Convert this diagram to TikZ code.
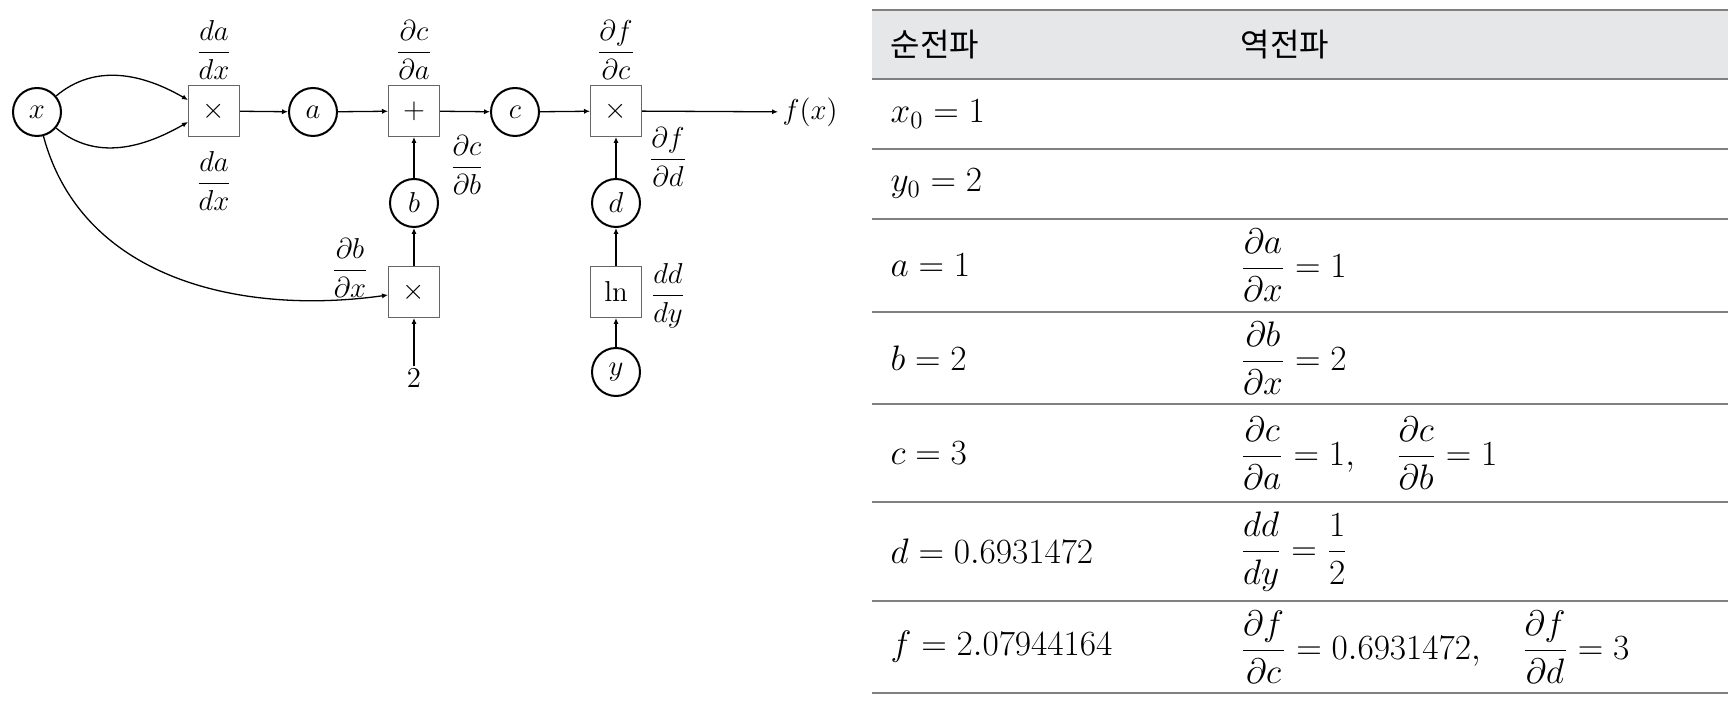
\RequirePackage{fix-cm}
\documentclass[tikz,border=0pt]{standalone}
\usepackage{amsmath}
\usepackage{fontspec}
\newfontfamily\kofont{Noto Sans CJK KR}
\usetikzlibrary{arrows.meta}
\definecolor{boxgray}{gray}{0.4}
\definecolor{rulegray}{gray}{0.5}
\definecolor{headgray}{RGB}{230,231,233}
\newcommand{\dgmfont}{\fontsize{14.4}{17}\selectfont}
\newcommand{\tabfont}{\fontsize{17.7}{21}\selectfont}
\begin{document}
\begin{tikzpicture}[x=0.5pt,y=0.5pt,line width=0.65pt,>={Latex[length=3pt,width=2.6pt]},
    var/.style={circle,draw,line width=1pt,minimum size=24pt,inner sep=0pt,font=\dgmfont},
    op/.style={rectangle,draw=boxgray,line width=0.5pt,minimum size=25.5pt,inner sep=0pt,font=\dgmfont},
    lbl/.style={inner sep=1pt,font=\dgmfont},
    cell/.style={anchor=west,inner sep=0pt,font=\tabfont}]
    \useasboundingbox (0,0) rectangle (1728,702);
    % graph
    \node[var] (x) at (37,590) {$x$};
    \node[op] (m1) at (214,591) {$\times$};
    \node[var] (a) at (313,590) {$a$};
    \node[op] (p) at (414,591) {$+$};
    \node[var] (c) at (515,590) {$c$};
    \node[op] (m2) at (616,591) {$\times$};
    \node[lbl,anchor=west,inner sep=2pt] (fx) at (778,590) {$f(x)$};
    \node[var] (b) at (414,499) {$b$};
    \node[op] (m3) at (414,410) {$\times$};
    \node[lbl] (two) at (414,324) {$2$};
    \node[var] (d) at (616,499) {$d$};
    \node[op] (ln) at (616,410) {$\ln$};
    \node[var] (y) at (616,330) {$y$};
    \draw[->] (x) to[out=40,in=150] ([yshift=5.5pt]m1.west);
    \draw[->] (x) to[out=-40,in=-150] ([yshift=-5.5pt]m1.west);
    \draw[->] (x) to[out=-75,in=188] ([yshift=-1.5pt]m3.west);
    \draw[->] (m1)--(a);
    \draw[->] (a)--(p);
    \draw[->] (p)--(c);
    \draw[->] (c)--(m2);
    \draw[->] (m2)--(fx);
    \draw[->] (two)--(m3);
    \draw[->] (m3)--(b);
    \draw[->] (b)--(p);
    \draw[->] (y)--(ln);
    \draw[->] (ln)--(d);
    \draw[->] (d)--(m2);
    % local gradients
    \node[lbl] (g1) at (214,652) {$\dfrac{da}{dx}$};
    \node[lbl] (g2) at (214,521) {$\dfrac{da}{dx}$};
    \node[lbl] (g3) at (414,652) {$\dfrac{\partial c}{\partial a}$};
    \node[lbl] (g4) at (467,537) {$\dfrac{\partial c}{\partial b}$};
    \node[lbl] (g5) at (616,652) {$\dfrac{\partial f}{\partial c}$};
    \node[lbl] (g6) at (668,545) {$\dfrac{\partial f}{\partial d}$};
    \node[lbl] (g7) at (668,406) {$\dfrac{dd}{dy}$};
    \node[lbl] (g8) at (350,434) {$\dfrac{\partial b}{\partial x}$};
    % table
    \fill[headgray] (872,623) rectangle (1728,692);
    \foreach \yy in {692,623,553,483,390,298,200,101,9}
      \draw[rulegray,line width=0.8pt] (872,\yy)--(1728,\yy);
    \node[cell,font=\kofont\fontsize{16}{19}\selectfont] (h1) at (890,657.5) {순전파};
    \node[cell,font=\kofont\fontsize{16}{19}\selectfont] (h2) at (1240,657.5) {역전파};
    \node[cell] (r1) at (890,588) {$x_0=1$};
    \node[cell] (r2) at (890,518) {$y_0=2$};
    \node[cell] (r3) at (890,436.5) {$a=1$};
    \node[cell] (s3) at (1240,436.5) {$\dfrac{\partial a}{\partial x}=1$};
    \node[cell] (r4) at (890,344) {$b=2$};
    \node[cell] (s4) at (1240,344) {$\dfrac{\partial b}{\partial x}=2$};
    \node[cell] (r5) at (890,249) {$c=3$};
    \node[cell] (s5) at (1240,249) {$\dfrac{\partial c}{\partial a}=1,\quad\dfrac{\partial c}{\partial b}=1$};
    \node[cell] (r6) at (890,150.5) {$d=0.6931472$};
    \node[cell] (s6) at (1240,150.5) {$\dfrac{dd}{dy}=\dfrac{1}{2}$};
    \node[cell] (r7) at (890,55) {$f=2.07944164$};
    \node[cell] (s7) at (1240,55) {$\dfrac{\partial f}{\partial c}=0.6931472,\quad\dfrac{\partial f}{\partial d}=3$};
\end{tikzpicture}
\end{document}
